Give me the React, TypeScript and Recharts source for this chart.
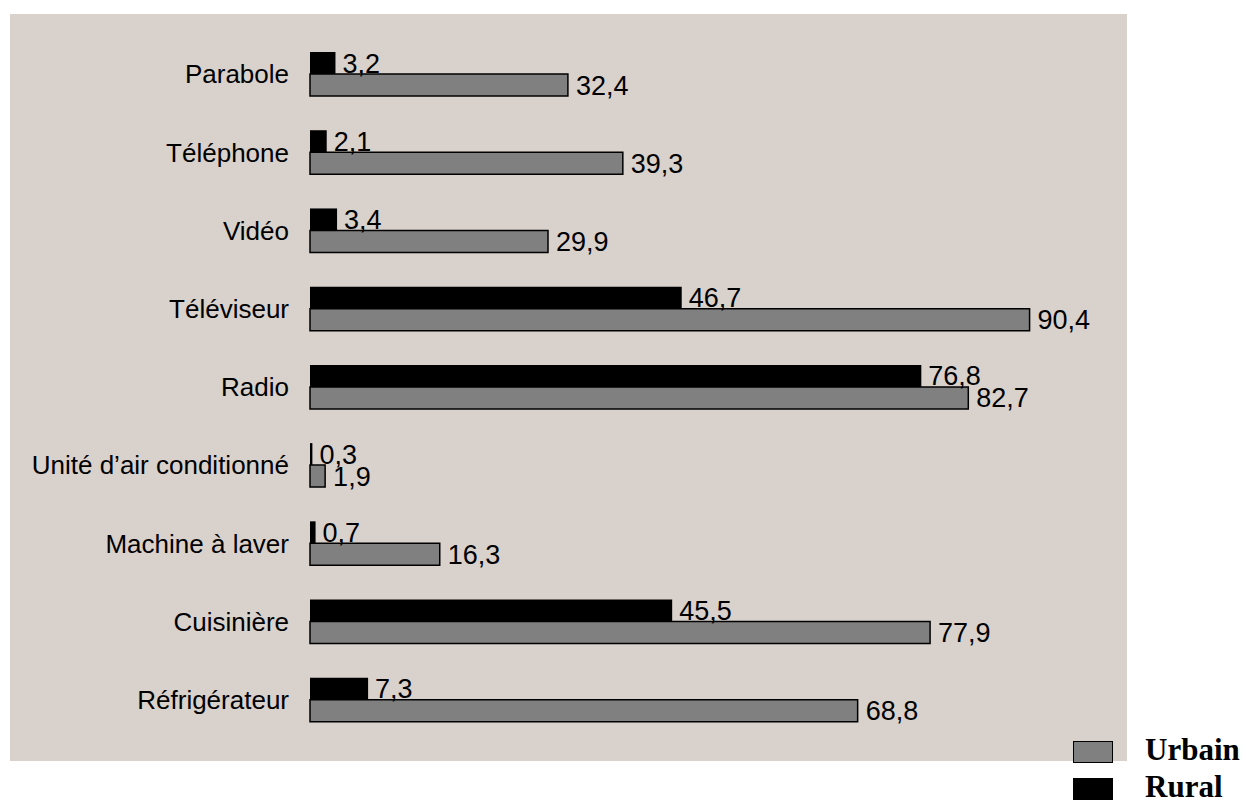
import { BarChart, Bar, XAxis, YAxis, LabelList } from "recharts";

const categories = [
  "Parabole",
  "Téléphone",
  "Vidéo",
  "Téléviseur",
  "Radio",
  "Unité d’air conditionné",
  "Machine à laver",
  "Cuisinière",
  "Réfrigérateur",
];
const rural = [3.2, 2.1, 3.4, 46.7, 76.8, 0.3, 0.7, 45.5, 7.3];
const urbain = [32.4, 39.3, 29.9, 90.4, 82.7, 1.9, 16.3, 77.9, 68.8];

const data = categories.map((name, i) => ({
  name,
  rural: rural[i],
  urbain: urbain[i],
}));

const fmt = (v: any) => Number(v).toFixed(1).replace(".", ",");

const legendItems = [
  { label: "Urbain", fill: "#808080" },
  { label: "Rural", fill: "#000" },
];

function ChartLegend() {
  return (
    <div style={{ position: "absolute", left: 1073, top: 739, width: 174, height: 66 }}>
      {legendItems.map((it, i) => (
        <div key={it.label}>
          <div
            style={{
              position: "absolute",
              left: 0,
              top: 2 + i * 37,
              width: 38,
              height: 20,
              background: it.fill,
              border: "1.5px solid #000",
            }}
          />
          <div
            style={{
              position: "absolute",
              left: 72,
              top: i * 37 - 6,
              fontFamily: '"Liberation Serif", "Times New Roman", serif',
              fontWeight: "bold",
              fontSize: 31,
              lineHeight: "34px",
              color: "#000",
              whiteSpace: "nowrap",
            }}
          >
            {it.label}
          </div>
        </div>
      ))}
    </div>
  );
}

export default function App() {
  return (
    <div style={{ position: "absolute", left: 0, top: 0, width: 1246, height: 805 }}>
      <div
        style={{
          position: "absolute",
          left: 10,
          top: 14,
          width: 1117,
          height: 747,
          background: "#D9D1CB",
        }}
      />
      <div style={{ position: "absolute", left: 0, top: 0 }}>
        <BarChart
          width={1246}
          height={805}
          data={data}
          layout="vertical"
          margin={{ top: 35, right: 140, bottom: 66, left: 0 }}
          barGap={0}
        >
          <XAxis type="number" domain={[0, 100]} hide />
          <YAxis
            type="category"
            dataKey="name"
            width={310}
            axisLine={false}
            tickLine={false}
            tickMargin={15}
            tick={{ fill: "#000", fontSize: 26, fontFamily: '"Liberation Sans", Arial, sans-serif' }}
            interval={0}
          />
          <Bar dataKey="rural" name="Rural" fill="#000" barSize={22} isAnimationActive={false}>
            <LabelList
              dataKey="rural"
              position="right"
              offset={7}
              formatter={fmt}
              fill="#000"
              fontSize={27}
              fontFamily='"Liberation Sans", Arial, sans-serif'
            />
          </Bar>
          <Bar
            dataKey="urbain"
            name="Urbain"
            fill="#808080"
            stroke="#000"
            strokeWidth={1.5}
            barSize={22}
            isAnimationActive={false}
          >
            <LabelList
              dataKey="urbain"
              position="right"
              offset={8}
              formatter={fmt}
              fill="#000"
              fontSize={27}
              fontFamily='"Liberation Sans", Arial, sans-serif'
            />
          </Bar>
        </BarChart>
      </div>
      <ChartLegend />
    </div>
  );
}
